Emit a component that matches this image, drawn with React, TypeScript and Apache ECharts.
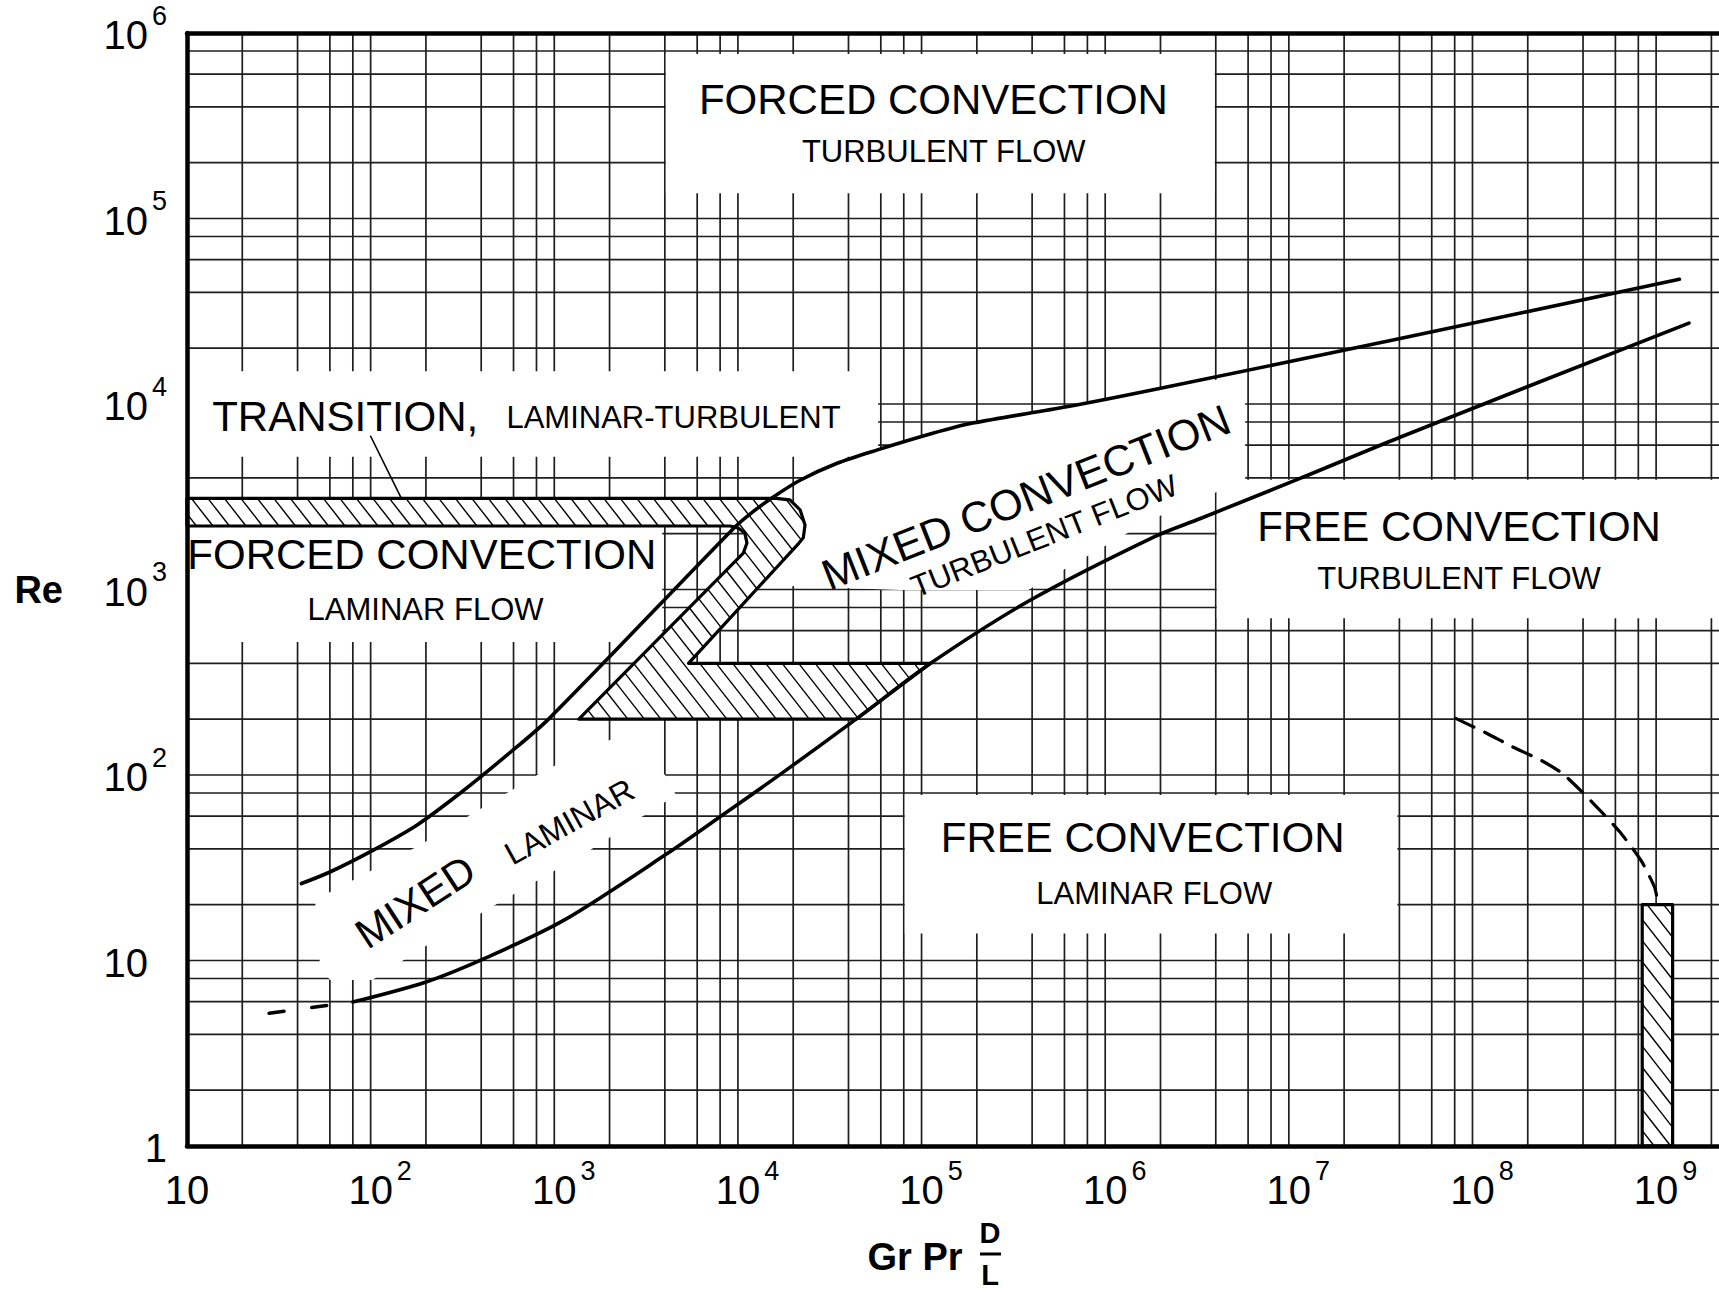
import React, { useEffect, useRef } from 'react';
import * as echarts from 'echarts';

type Pt = [number, number];

// Axis ranges: x = Gr Pr D/L, y = Re
const X_MIN = 10;
const X_MAX = 2.2e9;
const Y_MIN = 1;
const Y_MAX = 1e6;

// Log-paper rulings: 2, 4, 6, 8 and 10 times every decade
const RULING_MULTIPLES = [2, 4, 6, 8, 10];
const X_DECADES = [1e1, 1e2, 1e3, 1e4, 1e5, 1e6, 1e7, 1e8, 1e9];
const Y_DECADES = [1, 1e1, 1e2, 1e3, 1e4, 1e5];

// Boundary between forced and mixed convection
const forcedMixedBoundary: Pt[] = [
  [42, 26], [60, 30], [104, 39.5], [180, 54], [313, 81], [542, 126], [940, 202],
  [9640, 2173], [12100, 2630], [15600, 3155], [21800, 3880], [34700, 4790],
  [57000, 5640], [115000, 6950], [190000, 7890], [618000, 9660], [1.8e6, 11900],
  [4.1e7, 22600], [1.34e9, 47000],
];

// Boundary between mixed and free convection, and its uncertain low-Re continuation
const mixedFreeBoundary: Pt[] = [
  [80, 5.97], [200, 7.66], [430, 10.4], [1130, 16.5], [4120, 37.7], [8470, 62],
  [17300, 102], [44000, 200], [112000, 400], [390000, 875], [1.8e6, 1900],
  [3.3e6, 2415], [1.15e7, 3970], [4e7, 6600], [1.51e9, 27300],
];
const mixedFreeContinuation: Pt[] = [[28, 5.2], [80, 5.97]];

// Onset of turbulence in free convection
const freeTransitionCurve: Pt[] = [
  [8.1e7, 202], [1.18e8, 169], [1.65e8, 142], [2.4e8, 119], [3.09e8, 102],
  [3.97e8, 80.7], [5.1e8, 62.5], [6.3e8, 49.7], [7.4e8, 40.5], [8.4e8, 33.8],
  [9.8e8, 24.9], [1.02e9, 20.9],
];

// Laminar-turbulent transition zone of forced and mixed convection
const transitionZone: Pt[] = [
  [10, 3100], [16100, 3100], [19200, 3040], [21800, 2690], [23200, 2230],
  [22700, 1900], [21500, 1780], [5380, 400], [112000, 400], [44000, 200],
  [1360, 200], [10700, 1570], [11200, 1780], [10900, 2020], [10000, 2150],
  [9060, 2200], [10, 2200],
];

// Laminar-turbulent transition of free convection
const freeTransitionZone: Pt[] = [[8.4e8, 1], [1.23e9, 1], [1.23e9, 20], [8.4e8, 20]];

// Pointer from the TRANSITION caption to its zone
const transitionPointer: Pt[] = [[100, 6700], [147, 3100]];

// ---------------------------------------------------------------- styling

const INK = '#000';
const RULE = '#1e1e1e';
const TICK_FONT = "'Liberation Sans Narrow', 'Liberation Sans', Arial, sans-serif";
const LETTER_FONT = "'Liberation Sans', Arial, sans-serif";
const BIG = 42;
const SMALL = 31;

// Cleared paper behind the captions: [x1, x2, Re1, Re2]
const CAPTION_PANELS: [number, number, number, number][] = [
  [4050, 3.95e6, 1.37e5, 7.7e5],
  [10, 5.8e4, 5200, 1.5e4],
  [10, 3870, 521, 2200],
  [4.05e6, X_MAX, 700, 3900],
  [8.1e4, 3.9e7, 14, 78],
];
const CAPTION_AREAS: Pt[][] = [
  [
    [13200, 1057], [21800, 1850], [21800, 3890], [55800, 5650], [186000, 7900],
    [1.76e6, 11900], [5.78e6, 14300], [5.78e6, 3890], [1.76e6, 2370],
    [381000, 993], [76400, 993],
  ],
  [
    [53, 9.46], [49.8, 21.2], [186, 42], [891, 106], [2280, 164], [4010, 100],
    [4600, 78], [2930, 58.6], [1570, 39.4], [476, 19.9], [211, 12.4],
    [102, 7.86], [60, 7.86],
  ],
];

const REGION_LABELS: { text: string; at: Pt; size: number; angle: number }[] = [
  { text: 'FORCED CONVECTION', at: [1.16e5, 4.4e5], size: BIG, angle: 0 },
  { text: 'TURBULENT FLOW', at: [1.32e5, 2.29e5], size: SMALL, angle: 0 },
  { text: 'TRANSITION,', at: [72.7, 8610], size: BIG, angle: 0 },
  { text: 'LAMINAR-TURBULENT', at: [4460, 8410], size: SMALL, angle: 0 },
  { text: 'FORCED CONVECTION', at: [190, 1535], size: BIG, angle: 0 },
  { text: 'LAMINAR FLOW', at: [199, 785], size: SMALL, angle: 0 },
  { text: 'MIXED CONVECTION', at: [3.7e5, 3150], size: 43, angle: 21.5 },
  { text: 'TURBULENT FLOW', at: [4.65e5, 1940], size: SMALL, angle: 21.5 },
  { text: 'MIXED', at: [175, 20.7], size: BIG, angle: 33 },
  { text: 'LAMINAR', at: [1210, 56], size: 32, angle: 29 },
  { text: 'FREE CONVECTION', at: [8.45e7, 2173], size: BIG, angle: 0 },
  { text: 'TURBULENT FLOW', at: [8.45e7, 1140], size: SMALL, angle: 0 },
  { text: 'FREE CONVECTION', at: [1.6e6, 46.3], size: BIG, angle: 0 },
  { text: 'LAMINAR FLOW', at: [1.85e6, 23], size: SMALL, angle: 0 },
];

const rulings = (decades: number[], max: number) =>
  decades.flatMap((d) => RULING_MULTIPLES.map((m) => m * d)).filter((v) => v < max * 0.999);

const X_RULINGS = rulings(X_DECADES, X_MAX);
const Y_RULINGS = rulings(Y_DECADES, Y_MAX);

function powerOfTen(v: number): number | null {
  const e = Math.log10(v);
  const k = Math.round(e);
  return Math.abs(e - k) < 1e-6 ? k : null;
}

const tickRich = {
  b: { fontFamily: TICK_FONT, fontSize: 40, color: INK, lineHeight: 53, verticalAlign: 'bottom' },
  s: { fontFamily: TICK_FONT, fontSize: 27, color: INK, verticalAlign: 'top', padding: [0, 0, 0, 4] },
  p: { fontFamily: TICK_FONT, fontSize: 27, width: 19 },
};

const xTick = (v: number) => {
  const k = powerOfTen(v);
  if (k === null) return '';
  if (k === 1) return '{b|10}';
  return `{p| }{b|10}{s|${k}}`;
};
const yTick = (v: number) => {
  const k = powerOfTen(v);
  if (k === null) return '';
  if (k === 0) return '{b|1}';
  if (k === 1) return '{b|10}{p| }';
  return `{b|10}{s|${k}}`;
};

// Parallel hatch segments clipped to a polygon (pixel space)
function hatchLines(pts: number[][], spacing: number, angleDeg: number): number[][] {
  const a = (angleDeg * Math.PI) / 180;
  const dx = Math.cos(a);
  const dy = Math.sin(a);
  const nx = -dy;
  const ny = dx;
  let lo = Infinity;
  let hi = -Infinity;
  for (const [x, y] of pts) {
    const p = x * nx + y * ny;
    lo = Math.min(lo, p);
    hi = Math.max(hi, p);
  }
  const out: number[][] = [];
  for (let c = Math.ceil(lo / spacing) * spacing; c <= hi; c += spacing) {
    const ts: number[] = [];
    for (let i = 0; i < pts.length; i++) {
      const A = pts[i];
      const B = pts[(i + 1) % pts.length];
      const pa = A[0] * nx + A[1] * ny - c;
      const pb = B[0] * nx + B[1] * ny - c;
      if (pa < 0 !== pb < 0) {
        const t = pa / (pa - pb);
        const X = A[0] + t * (B[0] - A[0]);
        const Y = A[1] + t * (B[1] - A[1]);
        ts.push(X * dx + Y * dy);
      }
    }
    ts.sort((u, v) => u - v);
    for (let k = 0; k + 1 < ts.length; k += 2) {
      out.push([
        c * nx + ts[k] * dx, c * ny + ts[k] * dy,
        c * nx + ts[k + 1] * dx, c * ny + ts[k + 1] * dy,
      ]);
    }
  }
  return out;
}

const boxToPolygon = ([x1, x2, y1, y2]: [number, number, number, number]): Pt[] => [
  [x1, y1], [x2, y1], [x2, y2], [x1, y2],
];

const centered = { align: 'center', verticalAlign: 'middle', textAlign: 'center', textVerticalAlign: 'middle' };

function buildOption() {
  const panels: Pt[][] = [...CAPTION_PANELS.map(boxToPolygon), ...CAPTION_AREAS];
  const hatched: Pt[][] = [transitionZone, freeTransitionZone];

  const curve = (data: Pt[], width: number, dash?: number[], smooth = 0) => ({
    type: 'line',
    data,
    symbol: 'none',
    showSymbol: false,
    smooth,
    silent: true,
    z: 4,
    lineStyle: { color: INK, width, type: dash ?? 'solid', cap: 'round', join: 'round' },
  });

  return {
    animation: false,
    backgroundColor: '#fff',
    grid: { left: 187, right: 0, top: 33, bottom: 149, containLabel: false, outerBoundsMode: 'none' },
    xAxis: [
      {
        type: 'log', logBase: 10, min: X_MIN, max: X_MAX, position: 'bottom', z: 10,
        axisLine: { show: true, onZero: false, lineStyle: { color: INK, width: 4.5 } },
        axisTick: { show: false },
        splitLine: { show: false },
        axisLabel: { margin: 11, formatter: xTick, rich: tickRich },
      },
      {
        type: 'log', logBase: 10, min: X_MIN, max: X_MAX, position: 'top', z: 10,
        axisLine: { show: true, onZero: false, lineStyle: { color: INK, width: 4.5 } },
        axisTick: { show: false },
        splitLine: { show: false },
        axisLabel: { show: false },
      },
    ],
    yAxis: {
      type: 'log', logBase: 10, min: Y_MIN, max: Y_MAX, z: 10,
      axisLine: { show: true, onZero: false, lineStyle: { color: INK, width: 4.5 } },
      axisTick: { show: false },
      splitLine: { show: false },
      axisLabel: { margin: 20, formatter: yTick, rich: tickRich, padding: [0, 0, 9, 0] },
      name: 'Re',
      nameLocation: 'middle',
      nameRotate: 0,
      nameGap: 124,
      nameTextStyle: {
        fontFamily: LETTER_FONT, fontSize: 38, fontWeight: 'bold', color: INK,
        align: 'right', verticalAlign: 'middle',
      },
    },
    graphic: [
      {
        type: 'text', x: 915, y: 1257, z: 20,
        style: { text: 'Gr Pr', font: `bold 38px ${LETTER_FONT}`, fill: INK, ...centered },
      },
      {
        type: 'text', x: 990, y: 1233, z: 20,
        style: { text: 'D', font: `bold 29px ${LETTER_FONT}`, fill: INK, ...centered },
      },
      {
        type: 'line', z: 20,
        shape: { x1: 980, y1: 1254, x2: 1001, y2: 1254 },
        style: { stroke: INK, lineWidth: 3 },
      },
      {
        type: 'text', x: 990, y: 1275, z: 20,
        style: { text: 'L', font: `bold 29px ${LETTER_FONT}`, fill: INK, ...centered },
      },
    ],
    series: [
      // paper rulings
      {
        type: 'custom', z: 1, silent: true,
        data: X_RULINGS.map((v) => [v, Y_MIN]),
        renderItem: (params: any, api: any) => {
          const v = X_RULINGS[params.dataIndex];
          const a = api.coord([v, Y_MIN]);
          const b = api.coord([v, Y_MAX]);
          return {
            type: 'line',
            shape: { x1: a[0], y1: a[1], x2: b[0], y2: b[1] },
            style: { stroke: RULE, lineWidth: 1.7 },
          };
        },
      },
      {
        type: 'custom', z: 1, silent: true,
        data: Y_RULINGS.map((v) => [X_MIN, v]),
        renderItem: (params: any, api: any) => {
          const v = Y_RULINGS[params.dataIndex];
          const a = api.coord([X_MIN, v]);
          const b = api.coord([X_MAX, v]);
          return {
            type: 'line',
            shape: { x1: a[0], y1: a[1], x2: b[0], y2: b[1] },
            style: { stroke: RULE, lineWidth: 1.7 },
          };
        },
      },
      // cleared paper behind captions
      {
        type: 'custom', z: 2, silent: true,
        data: panels.map((p) => p[0]),
        renderItem: (params: any, api: any) => {
          const pts = panels[params.dataIndex].map((p) => api.coord(p));
          return { type: 'polygon', shape: { points: pts }, style: { fill: '#fff', stroke: 'none' } };
        },
      },
      // hatched transition zones
      {
        type: 'custom', z: 3, silent: true,
        data: hatched.map((p) => p[0]),
        renderItem: (params: any, api: any) => {
          const pts = hatched[params.dataIndex].map((p) => api.coord(p));
          const lines = hatchLines(pts, 13, 52).map(([x1, y1, x2, y2]) => ({
            type: 'line',
            shape: { x1, y1, x2, y2 },
            style: { stroke: INK, lineWidth: 1.4 },
          }));
          return {
            type: 'group',
            children: [
              { type: 'polygon', shape: { points: pts }, style: { fill: '#fff', stroke: 'none' } },
              ...lines,
              {
                type: 'polygon', shape: { points: pts },
                style: { fill: 'none', stroke: INK, lineWidth: 3.2, lineJoin: 'round' },
              },
            ],
          };
        },
      },
      // regime boundaries
      curve(forcedMixedBoundary, 3.6, undefined, 0.3),
      curve(mixedFreeBoundary, 3.6, undefined, 0.3),
      curve(mixedFreeContinuation, 3.6, [15, 28]),
      curve(freeTransitionCurve, 3.2, [20, 12], 0.2),
      curve(transitionPointer, 1.6),
      // region captions
      {
        type: 'custom', z: 5, silent: true,
        data: REGION_LABELS.map((l) => l.at),
        renderItem: (params: any, api: any) => {
          const lab = REGION_LABELS[params.dataIndex];
          const [x, y] = api.coord(lab.at);
          return {
            type: 'text',
            x,
            y,
            rotation: (lab.angle * Math.PI) / 180,
            style: { text: lab.text, font: `${lab.size}px ${LETTER_FONT}`, fill: INK, ...centered },
          };
        },
      },
    ],
  };
}

export default function App() {
  const ref = useRef<HTMLDivElement>(null);
  useEffect(() => {
    if (!ref.current) return;
    const chart = echarts.init(ref.current, null, { renderer: 'svg' });
    chart.setOption(buildOption() as any);
    return () => chart.dispose();
  }, []);
  return (
    <div style={{ position: 'fixed', left: 0, top: 0, width: 1719, height: 1295, background: '#fff', overflow: 'hidden' }}>
      <div ref={ref} style={{ width: 1719, height: 1295 }} />
    </div>
  );
}
